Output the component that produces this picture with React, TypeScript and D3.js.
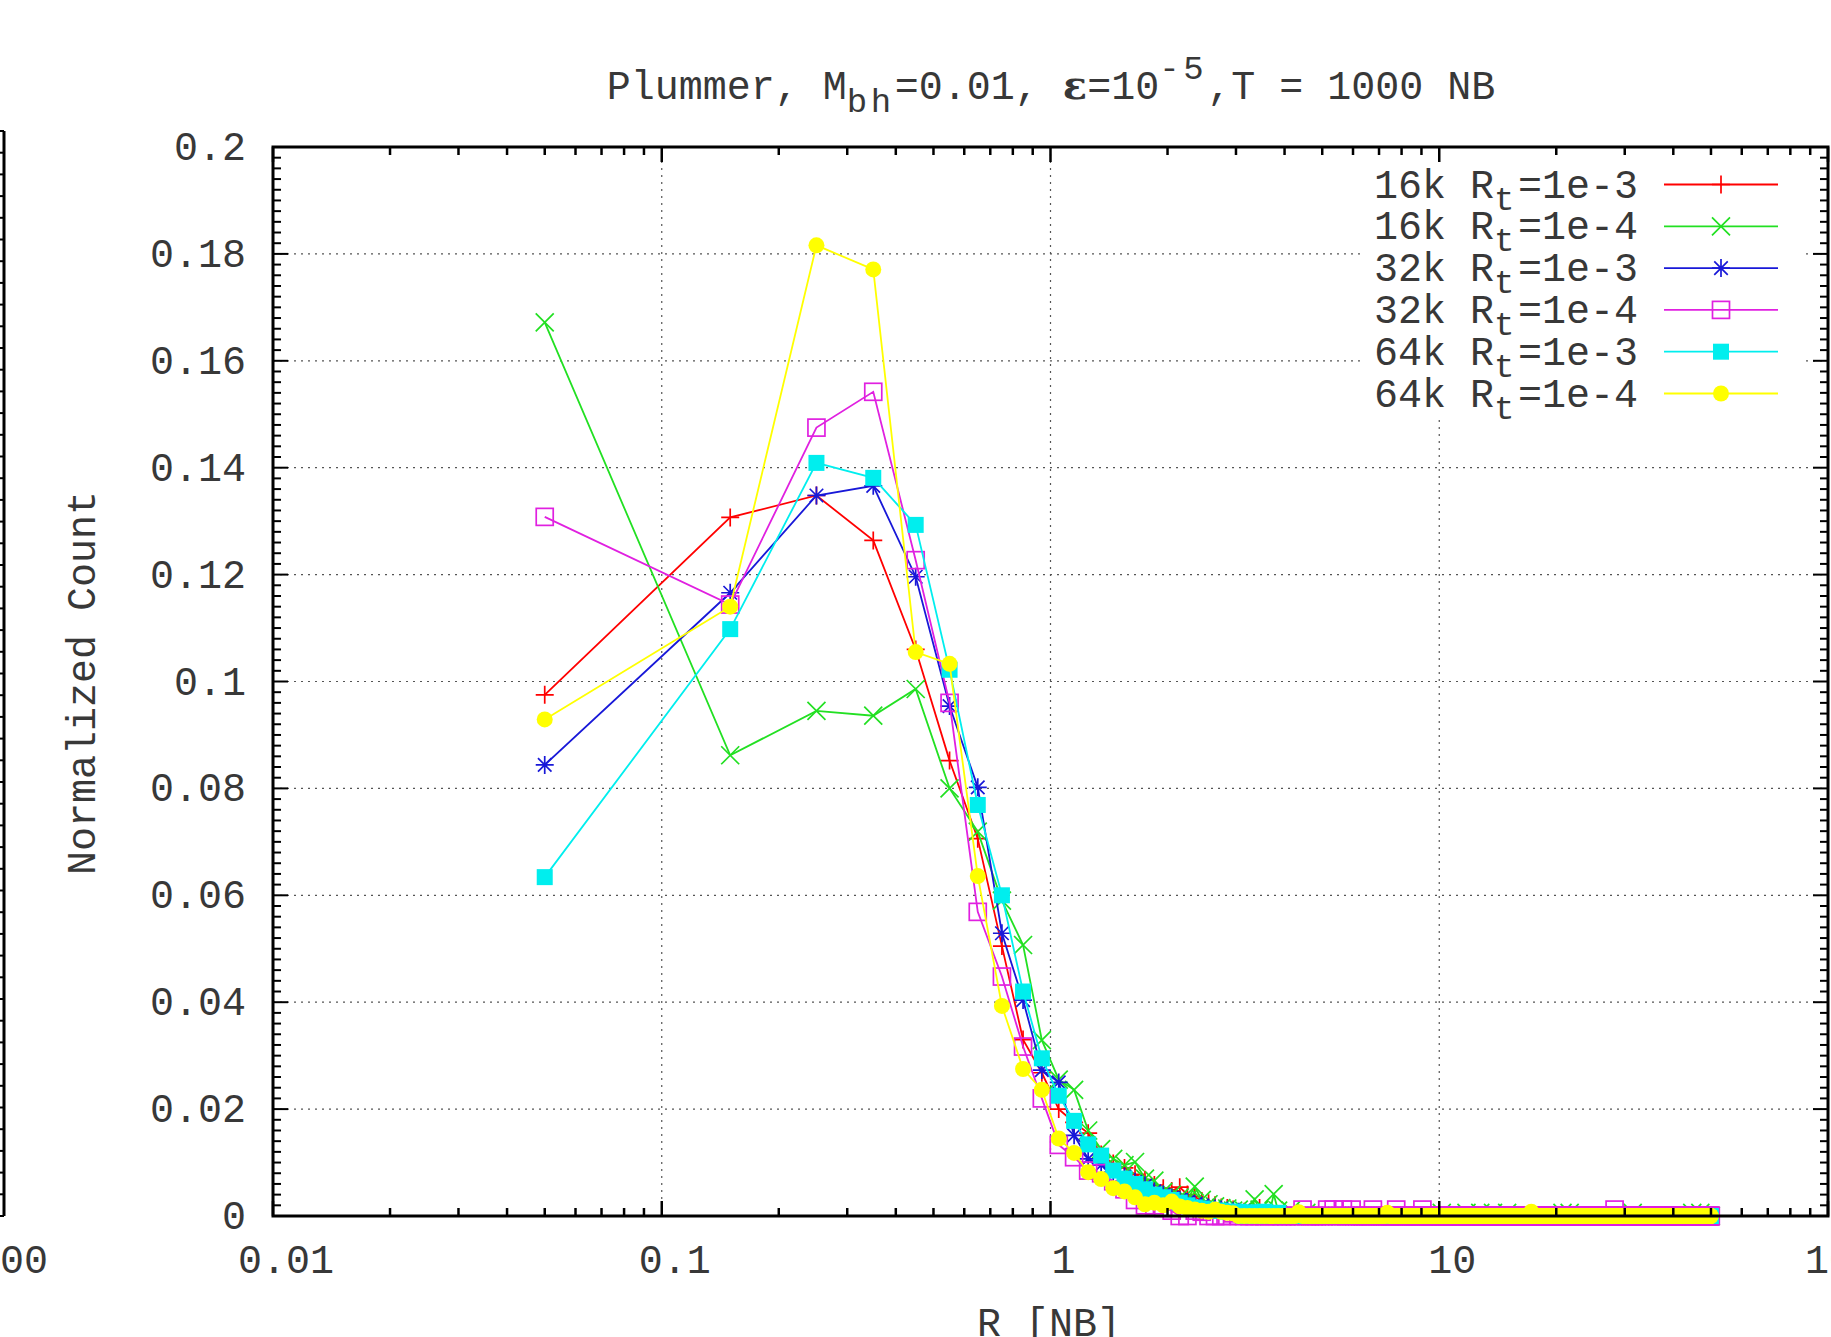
import React from "react";
import * as d3 from "d3";

const W = 1831;
const H = 1337;

// bin centres (R in N-body units) for the explicitly read part of the histogram
const headR = [
  0.05, 0.15, 0.25, 0.35, 0.45, 0.55, 0.65, 0.75, 0.85, 0.95,
  1.05, 1.15, 1.25, 1.35, 1.45, 1.55, 1.65, 1.75, 1.85, 1.95,
  2.05, 2.15, 2.25, 2.35, 2.45, 2.55, 2.65, 2.75, 2.85, 2.95,
];
// the histogram continues with 0.1-wide bins out to R = 49.95 (values ~0 there)
const tailStartR = 3.05;
const tailBinCount = 470;

const red16k1e3 = [
  0.0975, 0.1307, 0.1348, 0.1264, 0.106, 0.0852, 0.0706, 0.0505, 0.033, 0.0268,
  0.02, 0.0175, 0.0155, 0.0115, 0.0098, 0.009, 0.0078, 0.0068, 0.0058, 0.0052,
  0.0047, 0.0054, 0.004, 0.0036, 0.0028, 0.0024, 0.002, 0.0016, 0.0015, 0.0012,
];
const green16k1e4 = [
  0.1672, 0.0862, 0.0945, 0.0936, 0.0986, 0.08, 0.0719, 0.059, 0.0507, 0.0329,
  0.0255, 0.0236, 0.016, 0.0125, 0.0107, 0.0095, 0.0101, 0.007, 0.0066, 0.0045,
  0.004, 0.0035, 0.003, 0.0055, 0.003, 0.0022, 0.0018, 0.0015, 0.0014, 0.001,
];
const blue32k1e3 = [
  0.0844, 0.1166, 0.1348, 0.1366, 0.1196, 0.0954, 0.0802, 0.0529, 0.0404, 0.0273,
  0.025, 0.0151, 0.0107, 0.0095, 0.0082, 0.0074, 0.0064, 0.0057, 0.0046, 0.004,
  0.0034, 0.003, 0.0026, 0.0022, 0.0019, 0.0016, 0.0014, 0.0012, 0.001, 0.0009,
];
const magenta32k1e4 = [
  0.1308, 0.1144, 0.1475, 0.1542, 0.1227, 0.096, 0.0569, 0.0448, 0.0317, 0.022,
  0.0133, 0.011, 0.0085, 0.008, 0.0065, 0.005, 0.003, 0.002, 0.002, 0.0015,
  0.001, 0.0, 0.0, 0.001, 0.0008, 0.0, 0.0, 0.0, 0.0, 0.0005,
];
const cyan64k1e3 = [
  0.0634, 0.1098, 0.1409, 0.1381, 0.1293, 0.1022, 0.0769, 0.06, 0.042, 0.0295,
  0.0225, 0.0178, 0.0134, 0.0113, 0.0085, 0.007, 0.006, 0.005, 0.004, 0.0035,
  0.003, 0.0025, 0.002, 0.0016, 0.0014, 0.0012, 0.001, 0.001, 0.0008, 0.0008,
];
const yellow64k1e4 = [
  0.0929, 0.114, 0.1816, 0.1771, 0.1055, 0.1033, 0.0636, 0.0393, 0.0275, 0.0236,
  0.0145, 0.0118, 0.0082, 0.0069, 0.0052, 0.0046, 0.0035, 0.0022, 0.0025, 0.002,
  0.0027, 0.0018, 0.0015, 0.0012, 0.001, 0.0008, 0.0012, 0.0008, 0.0006, 0.0005,
];

// sparse non-zero tail bins [R, value]; every other tail bin reads as 0
const red16k1e3Tail: [number, number][] = [[3.15, 0.0008], [3.45, 0.0015]];
const green16k1e4Tail: [number, number][] = [
  [3.05, 0.0012], [3.15, 0.001], [3.35, 0.0031], [3.45, 0.0012], [3.75, 0.0041],
  [3.85, 0.001], [4.15, 0.001], [4.55, 0.0006], [10.15, 0.0006], [11.75, 0.0006],
  [12.75, 0.0006], [13.75, 0.0006], [14.95, 0.0006], [20.75, 0.0006], [21.65, 0.0006],
  [31.45, 0.0006], [44.75, 0.0006], [46.95, 0.0006],
];
const blue32k1e3Tail: [number, number][] = [[3.05, 0.0008], [3.25, 0.0006], [3.55, 0.0005]];
const magenta32k1e4Tail: [number, number][] = [
  [4.45, 0.0012], [5.15, 0.0012], [5.35, 0.0012], [5.65, 0.0012], [5.95, 0.0012],
  [6.75, 0.0012], [7.75, 0.0012], [9.05, 0.0012], [28.25, 0.0012],
];
const cyan64k1e3Tail: [number, number][] = [[3.05, 0.0008], [3.25, 0.0007], [3.55, 0.0008], [3.85, 0.0006]];
const yellow64k1e4Tail: [number, number][] = [[4.35, 0.0007], [7.35, 0.0006], [17.25, 0.0008]];

const seriesNames = ["16k", "16k", "32k", "32k", "64k", "64k"];
const seriesRt = ["1e-3", "1e-4", "1e-3", "1e-4", "1e-3", "1e-4"];
const seriesColors = ["#ff0000", "#22e022", "#1818d8", "#e020e0", "#00eeee", "#ffff00"];
const seriesMarkers = ["plus", "cross", "star", "openSquare", "filledSquare", "circle"];
const seriesHeads = [red16k1e3, green16k1e4, blue32k1e3, magenta32k1e4, cyan64k1e3, yellow64k1e4];
const seriesTails = [red16k1e3Tail, green16k1e4Tail, blue32k1e3Tail, magenta32k1e4Tail, cyan64k1e3Tail, yellow64k1e4Tail];

const xTickValues = [0.01, 0.1, 1, 10, 100];
const xTickLabels = ["0.01", "0.1", "1", "10", "100"];
const yTickValues = [0, 0.02, 0.04, 0.06, 0.08, 0.1, 0.12, 0.14, 0.16, 0.18, 0.2];
const yTickLabels = ["0", "0.02", "0.04", "0.06", "0.08", "0.1", "0.12", "0.14", "0.16", "0.18", "0.2"];

const FONT = "'Liberation Mono', 'DejaVu Sans Mono', monospace";
const TXT = "#383838";

function buildSeries(head: number[], tail: [number, number][]) {
  const pts: { r: number; v: number }[] = head.map((v, i) => ({ r: headR[i], v }));
  const tailVals = new Array(tailBinCount).fill(0);
  tail.forEach(([r, v]) => {
    const k = Math.round((r - tailStartR) / 0.1);
    if (k >= 0 && k < tailBinCount) tailVals[k] = v;
  });
  for (let k = 0; k < tailBinCount; k++) {
    pts.push({ r: Math.round((tailStartR + 0.1 * k) * 100) / 100, v: tailVals[k] });
  }
  return pts;
}

function Marker({ type, x, y, color }: { type: string; x: number; y: number; color: string }) {
  const s = 9;
  const sw = 1.7;
  if (type === "plus")
    return <path d={`M${x - s},${y}H${x + s}M${x},${y - s}V${y + s}`} stroke={color} strokeWidth={sw} fill="none" />;
  if (type === "cross")
    return <path d={`M${x - s},${y - s}L${x + s},${y + s}M${x - s},${y + s}L${x + s},${y - s}`} stroke={color} strokeWidth={sw} fill="none" />;
  if (type === "star")
    return (
      <path
        d={`M${x - s},${y}H${x + s}M${x},${y - s}V${y + s}M${x - s * 0.75},${y - s * 0.75}L${x + s * 0.75},${y + s * 0.75}M${x - s * 0.75},${y + s * 0.75}L${x + s * 0.75},${y - s * 0.75}`}
        stroke={color}
        strokeWidth={sw}
        fill="none"
      />
    );
  if (type === "openSquare")
    return <rect x={x - 8.5} y={y - 8.5} width={17} height={17} stroke={color} strokeWidth={sw} fill="none" />;
  if (type === "filledSquare")
    return <rect x={x - 8} y={y - 8} width={16} height={16} fill={color} />;
  return <circle cx={x} cy={y} r={8} fill={color} />;
}

export default function App() {
  const left = 273;
  const right = 1828;
  const top = 147;
  const bottom = 1216;

  const x = d3.scaleLog().domain([0.01, 100]).range([left, right]);
  const y = d3.scaleLinear().domain([0, 0.2]).range([bottom, top]);

  const series = seriesHeads.map((h, i) => buildSeries(h, seriesTails[i]));
  const line = d3
    .line<{ r: number; v: number }>()
    .x((d) => x(d.r))
    .y((d) => y(d.v));

  const xMinor: number[] = [];
  for (let e = -2; e < 2; e++) for (let m = 2; m <= 9; m++) xMinor.push(m * Math.pow(10, e));
  const yMinor = d3.range(0, 101).map((i) => i * 0.002);

  const majorLen = 15;
  const minorLen = 8;

  const legendTop = 184.5;
  const legendStep = 41.8;

  return (
    <svg
      width={W}
      height={H}
      viewBox={`0 0 ${W} ${H}`}
      style={{ position: "absolute", left: 0, top: 0, background: "#fff" }}
      fontFamily={FONT}
    >
      <rect x={0} y={0} width={W} height={H} fill="#fff" />

      {/* neighbouring panel edge (cropped) */}
      <line x1={4} x2={4} y1={131} y2={bottom} stroke="#000" strokeWidth={3} />
      {d3.range(0, 51).map((i) => (
        <line key={`nb${i}`} x1={0} x2={4} y1={bottom - i * ((bottom - 131) / 50)} y2={bottom - i * ((bottom - 131) / 50)} stroke="#000" strokeWidth={2} />
      ))}
      <text x={12} y={1273} fontSize={40} textAnchor="middle" fill={TXT}>100</text>

      {/* grid */}
      {yTickValues.slice(1, -1).map((v) => (
        <line key={`gy${v}`} x1={left} x2={right} y1={y(v)} y2={y(v)} stroke="#555" strokeWidth={1.2} strokeDasharray="2,5" />
      ))}
      {xTickValues.slice(1, -1).map((v) => (
        <line key={`gx${v}`} x1={x(v)} x2={x(v)} y1={top} y2={bottom} stroke="#555" strokeWidth={1.2} strokeDasharray="2,5" />
      ))}

      {/* data */}
      {series.map((pts, i) => (
        <g key={`s${i}`}>
          <path d={line(pts) || ""} fill="none" stroke={seriesColors[i]} strokeWidth={1.8} />
          {pts.map((p, j) => (
            <Marker key={j} type={seriesMarkers[i]} x={x(p.r)} y={y(p.v)} color={seriesColors[i]} />
          ))}
        </g>
      ))}

      {/* legend */}
      <rect x={1362} y={top + 2} width={443} height={414 - top} fill="#fff" />
      {seriesNames.map((n, i) => {
        const cy = legendTop + i * legendStep;
        return (
          <g key={`lg${i}`}>
            <text x={1638} y={cy + 13} fontSize={40} textAnchor="end" fill={TXT}>
              {n + " R"}
              <tspan dy={12} fontSize={34} letterSpacing={3.6}>t</tspan>
              <tspan dy={-12}>{"=" + seriesRt[i]}</tspan>
            </text>
            <line x1={1664} x2={1778} y1={cy} y2={cy} stroke={seriesColors[i]} strokeWidth={1.8} />
            <Marker type={seriesMarkers[i]} x={1721} y={cy} color={seriesColors[i]} />
          </g>
        );
      })}

      {/* ticks */}
      {xTickValues.map((v) => (
        <g key={`xt${v}`}>
          <line x1={x(v)} x2={x(v)} y1={bottom} y2={bottom - majorLen} stroke="#000" strokeWidth={2.5} />
          <line x1={x(v)} x2={x(v)} y1={top} y2={top + majorLen} stroke="#000" strokeWidth={2.5} />
        </g>
      ))}
      {xMinor.map((v) => (
        <g key={`xm${v}`}>
          <line x1={x(v)} x2={x(v)} y1={bottom} y2={bottom - minorLen} stroke="#000" strokeWidth={2.5} />
          <line x1={x(v)} x2={x(v)} y1={top} y2={top + minorLen} stroke="#000" strokeWidth={2.5} />
        </g>
      ))}
      {yMinor.map((v, i) => {
        const len = i % 10 === 0 ? majorLen : minorLen;
        return (
          <g key={`ym${i}`}>
            <line x1={left} x2={left + len} y1={y(v)} y2={y(v)} stroke="#000" strokeWidth={2} />
            <line x1={right} x2={right - len} y1={y(v)} y2={y(v)} stroke="#000" strokeWidth={2} />
          </g>
        );
      })}

      {/* frame */}
      <rect x={left} y={top} width={right - left} height={bottom - top} fill="none" stroke="#000" strokeWidth={3} />

      {/* tick labels */}
      {xTickValues.map((v, i) => (
        <text key={`xl${v}`} x={x(v) + 13} y={1273} fontSize={40} textAnchor="middle" fill={TXT}>
          {xTickLabels[i]}
        </text>
      ))}
      {yTickValues.map((v, i) => (
        <text key={`yl${v}`} x={246} y={y(v) + 13} fontSize={40} textAnchor="end" fill={TXT}>
          {yTickLabels[i]}
        </text>
      ))}

      {/* axis titles */}
      <text x={1049} y={1336} fontSize={40} textAnchor="middle" fill={TXT}>R [NB]</text>
      <text transform="translate(95,683) rotate(-90)" fontSize={40} textAnchor="middle" fill={TXT}>Normalized Count</text>

      {/* title */}
      <text x={1051} y={99} fontSize={40} textAnchor="middle" fill={TXT}>
        {"Plummer, M"}
        <tspan dy={13} fontSize={34} letterSpacing={3.6}>bh</tspan>
        <tspan dy={-13}>{"=0.01, "}</tspan>
        <tspan fontWeight="bold" fontFamily="'DejaVu Serif', serif">ε</tspan>
        <tspan>{"=10"}</tspan>
        <tspan dy={-20} fontSize={34} letterSpacing={3.6}>-5</tspan>
        <tspan dy={20}>{",T = 1000 NB"}</tspan>
      </text>
    </svg>
  );
}
